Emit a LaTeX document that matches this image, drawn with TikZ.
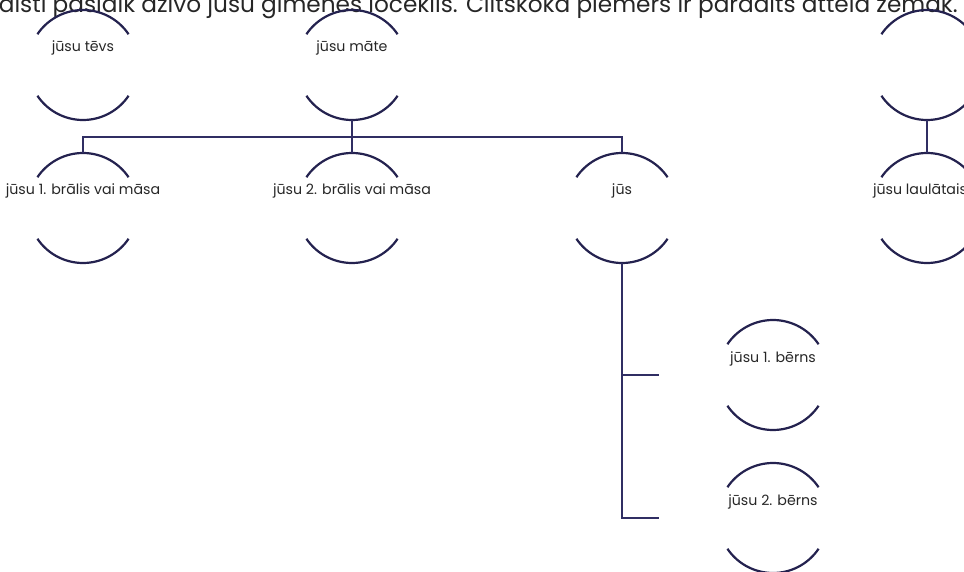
\documentclass[tikz,border=0pt]{standalone}
\usepackage{fontspec}
\setmainfont{Poppins}
\usetikzlibrary{calc}
\definecolor{navy}{HTML}{24224F}
\definecolor{wire}{HTML}{302E63}
\tikzset{
  member/.style={circle, draw=none, minimum size=110pt, inner sep=0pt, outer sep=0pt},
  rim/.style={draw=navy, line width=2.2pt},
  wirestyle/.style={draw=wire, line width=1.1pt},
  lbl/.style={font=\fontsize{14.2}{16}\selectfont, text=black!85, anchor=base, inner sep=0pt},
  titletxt/.style={font=\fontsize{23.2}{26}\selectfont, text=black!85, anchor=base east, inner sep=0pt}
}
\begin{document}
\begin{tikzpicture}[x=1pt,y=1pt]
\useasboundingbox (0,0) rectangle (964,-572);
\node[titletxt] (title) at (958,-13) {valstī pašlaik dzīvo jūsu ģimenes loceklis. Ciltskoka piemērs ir parādīts attēlā zemāk.};
% members
\node[member] (f)  at (83,-65) {};
\node[member] (m)  at (352,-65) {};
\node[member] (g)  at (927,-65) {};
\node[member] (s1) at (83,-208) {};
\node[member] (s2) at (352,-208) {};
\node[member] (y)  at (622,-208) {};
\node[member] (sp) at (927,-208) {};
\node[member] (c1) at (773,-375) {};
\node[member] (c2) at (773,-518) {};
\foreach \n in {f,m,g,s1,s2,y,sp,c1,c2}{
  \draw[rim] (\n.center) ++(34:55) arc[start angle=34, end angle=146, radius=55];
  \draw[rim] (\n.center) ++(214:55) arc[start angle=214, end angle=326, radius=55];
}
% labels
\node[lbl] (lf)  at ($(f.center)+(0,13)$) {jūsu tēvs};
\node[lbl] (lm)  at ($(m.center)+(0,13)$) {jūsu māte};
\node[lbl] (ls1) at ($(s1.center)+(0,13)$) {jūsu 1. brālis vai māsa};
\node[lbl] (ls2) at ($(s2.center)+(0,13)$) {jūsu 2. brālis vai māsa};
\node[lbl] (ly)  at ($(y.center)+(0,13)$) {jūs};
\node[lbl] (lsp) at ($(sp.center)+(-7,13)$) {jūsu laulātais};
\node[lbl] (lc1) at ($(c1.center)+(0,13)$) {jūsu 1. bērns};
\node[lbl] (lc2) at ($(c2.center)+(0,13)$) {jūsu 2. bērns};
% connectors
\coordinate (bus) at ($(m.south)+(0,-17)$);
\draw[wirestyle] (m.south) -- (bus);
\draw[wirestyle] (s1.north) |- (y.north |- bus) -- (y.north);
\draw[wirestyle] (s2.north) -- (s2.north |- bus);
\draw[wirestyle] (g.south) -- (sp.north);
\coordinate (k1) at ($(c1.west)+(-59,0)$);
\coordinate (k2) at ($(c2.west)+(-59,0)$);
\draw[wirestyle] (y.south) |- (k2);
\draw[wirestyle] (y.south |- k1) -- (k1);
\end{tikzpicture}
\end{document}
